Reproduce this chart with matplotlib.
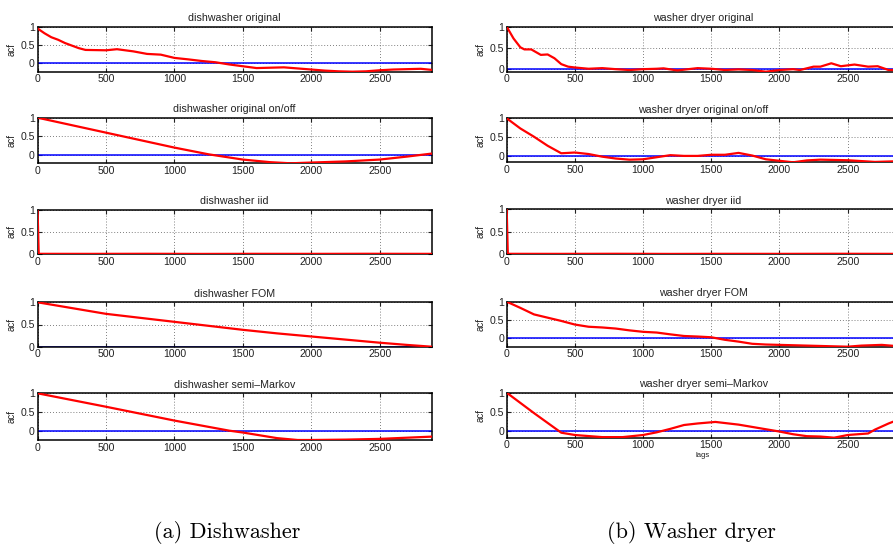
import matplotlib
matplotlib.use("Agg")
import matplotlib.pyplot as plt

# lags / acf values
dw_orig_lags = [0, 50, 100, 150, 200, 300, 350, 500, 580, 700, 800, 900, 1000, 1100, 1200, 1300,
                1400, 1500, 1600, 1700, 1800, 1900, 2000, 2100, 2200, 2300, 2400, 2500, 2600,
                2700, 2800, 2880]
dw_orig_acf = [0.95, 0.82, 0.71, 0.64, 0.55, 0.41, 0.36, 0.35, 0.38, 0.32, 0.25, 0.23, 0.14, 0.10,
               0.055, 0.02, -0.04, -0.09, -0.14, -0.13, -0.12, -0.15, -0.18, -0.21, -0.23, -0.24,
               -0.23, -0.20, -0.18, -0.17, -0.16, -0.19]

dw_onoff_lags = [0, 500, 1000, 1250, 1500, 1700, 1850, 2000, 2250, 2500, 2700, 2880]
dw_onoff_acf = [1.0, 0.6, 0.2, 0.02, -0.12, -0.19, -0.22, -0.2, -0.17, -0.12, -0.04, 0.04]

dw_iid_lags = [0, 8, 400, 800, 1200, 1600, 2000, 2400, 2880]
dw_iid_acf = [1.0, 0.004, 0.003, 0.005, 0.002, 0.004, 0.003, 0.005, 0.003]

dw_fom_lags = [0, 250, 500, 750, 1000, 1250, 1500, 1750, 2000, 2250, 2500, 2700, 2880]
dw_fom_acf = [1.0, 0.87, 0.74, 0.65, 0.56, 0.47, 0.38, 0.30, 0.23, 0.16, 0.09, 0.04, 0.0]

dw_smk_lags = [0, 500, 1000, 1400, 1500, 1750, 1900, 2000, 2250, 2500, 2880]
dw_smk_acf = [1.0, 0.64, 0.27, 0.0, -0.05, -0.2, -0.25, -0.25, -0.24, -0.22, -0.16]

wd_orig_lags = [0, 50, 100, 130, 180, 250, 300, 350, 400, 450, 500, 600, 700, 800, 900, 1000,
                1100, 1150, 1250, 1400, 1500, 1600, 1700, 1800, 1900, 2000, 2100, 2150, 2250,
                2300, 2380, 2450, 2550, 2650, 2720, 2800, 2880]
wd_orig_acf = [1.0, 0.72, 0.51, 0.46, 0.46, 0.33, 0.34, 0.25, 0.11, 0.05, 0.03, 0.0, 0.015,
               -0.01, -0.03, -0.01, 0.0, 0.01, -0.04, 0.015, 0.0, -0.03, -0.015, -0.03, -0.07,
               -0.03, -0.01, -0.03, 0.05, 0.05, 0.13, 0.06, 0.10, 0.05, 0.06, -0.03, -0.03]

wd_onoff_lags = [0, 100, 150, 200, 300, 400, 500, 600, 700, 800, 900, 1000, 1100, 1200, 1300,
                 1400, 1500, 1600, 1700, 1800, 1900, 2000, 2100, 2200, 2300, 2500, 2700, 2880]
wd_onoff_acf = [1.0, 0.73, 0.62, 0.51, 0.27, 0.07, 0.09, 0.05, -0.02, -0.07, -0.1, -0.09,
                -0.035, 0.02, 0.0, 0.0, 0.03, 0.03, 0.08, 0.01, -0.09, -0.13, -0.17, -0.12,
                -0.1, -0.115, -0.16, -0.14]

wd_iid_lags = [0, 8, 400, 800, 1200, 1600, 2000, 2400, 2880]
wd_iid_acf = [1.0, 0.004, 0.003, 0.005, 0.002, 0.004, 0.003, 0.005, 0.003]

wd_fom_lags = [0, 100, 200, 300, 400, 500, 600, 700, 800, 900, 1000, 1100, 1200, 1300, 1400,
               1500, 1600, 1700, 1800, 1900, 2000, 2200, 2300, 2500, 2600, 2750, 2880]
wd_fom_acf = [1.0, 0.83, 0.65, 0.56, 0.47, 0.37, 0.31, 0.29, 0.26, 0.21, 0.17, 0.15, 0.10,
              0.055, 0.04, 0.02, -0.05, -0.10, -0.16, -0.18, -0.19, -0.21, -0.22, -0.24, -0.21,
              -0.19, -0.23]

wd_smk_lags = [0, 200, 400, 500, 700, 850, 1000, 1100, 1200, 1300, 1400, 1530, 1700, 1800, 1900,
               2000, 2100, 2200, 2300, 2400, 2500, 2650, 2700, 2800, 2880]
wd_smk_acf = [1.0, 0.47, -0.04, -0.1, -0.155, -0.155, -0.1, -0.03, 0.06, 0.16, 0.2, 0.24, 0.17,
              0.11, 0.05, -0.01, -0.08, -0.13, -0.14, -0.17, -0.1, -0.06, 0.04, 0.2, 0.31]

left_titles = ["dishwasher original", "dishwasher original on/off", "dishwasher iid",
               "dishwasher FOM", "dishwasher semi\u2013Markov"]
right_titles = ["washer dryer original", "washer dryer original on/off", "washer dryer iid",
                "washer dryer FOM", "washer dryer semi\u2013Markov"]
left_series = [(dw_orig_lags, dw_orig_acf), (dw_onoff_lags, dw_onoff_acf), (dw_iid_lags, dw_iid_acf),
               (dw_fom_lags, dw_fom_acf), (dw_smk_lags, dw_smk_acf)]
right_series = [(wd_orig_lags, wd_orig_acf), (wd_onoff_lags, wd_onoff_acf), (wd_iid_lags, wd_iid_acf),
                (wd_fom_lags, wd_fom_acf), (wd_smk_lags, wd_smk_acf)]
max_lag = 2880
xticks = [0, 500, 1000, 1500, 2000, 2500]
yticks = [0, 0.5, 1]

W, H = 893, 545
plt.rcParams["font.family"] = ["Liberation Sans", "DejaVu Sans"]
fig = plt.figure(figsize=(W / 100, H / 100), dpi=100)

# (top, bottom) of each axes box in pixels
left_rows = [(26.7, 71.7), (117.7, 163.3), (210, 254), (302.3, 346.7), (393.3, 440)]
right_rows = [(26.7, 71.7), (118.3, 162.3), (209.3, 254), (301.7, 346.7), (392.7, 437.7)]


def draw_panel(x0, x1, top, bottom, title, lags, acf, xlabel=None):
    ax = fig.add_axes([x0 / W, 1 - bottom / H, (x1 - x0) / W, (bottom - top) / H])
    ax.plot([0, max_lag], [0, 0], color="#0000ff", lw=1.1, zorder=2)
    ax.plot(lags, acf, color="#ff0000", lw=1.6, zorder=3, solid_joinstyle="round")
    ax.set_xlim(0, max_lag)
    ax.set_ylim(min(min(acf), 0), max(max(acf), 1))
    ax.set_xticks(xticks)
    ax.set_yticks(yticks)
    ax.set_yticklabels(["0", "0.5", "1"])
    ax.grid(True, linestyle=(0, (1, 2.5)), color="#555555", linewidth=0.6)
    ax.tick_params(direction="in", length=3, width=0.8, labelsize=7.6, pad=2,
                   colors="#222222", top=True, right=True)
    for s in ax.spines.values():
        s.set_linewidth(1.1)
    ax.set_title(title, fontsize=7.7, pad=4, color="#222222")
    ax.set_ylabel("acf", fontsize=7, labelpad=3, color="#222222")
    if xlabel:
        ax.set_xlabel(xlabel, fontsize=5.5, labelpad=1, color="#222222")
    return ax


for i in range(5):
    lags, acf = left_series[i]
    draw_panel(37.6, 431.7, left_rows[i][0], left_rows[i][1], left_titles[i], lags, acf)
    lags, acf = right_series[i]
    draw_panel(506.7, 899.5, right_rows[i][0], right_rows[i][1], right_titles[i], lags, acf,
               xlabel="lags" if i == 4 else None)

fig.text(227 / W, 1 - 538 / H, "(a) Dishwasher", family="cmr10", fontsize=16,
         ha="center", va="baseline")
fig.text(691 / W, 1 - 538 / H, "(b) Washer dryer", family="cmr10", fontsize=16,
         ha="center", va="baseline")

fig.savefig("out.png", dpi=100)
